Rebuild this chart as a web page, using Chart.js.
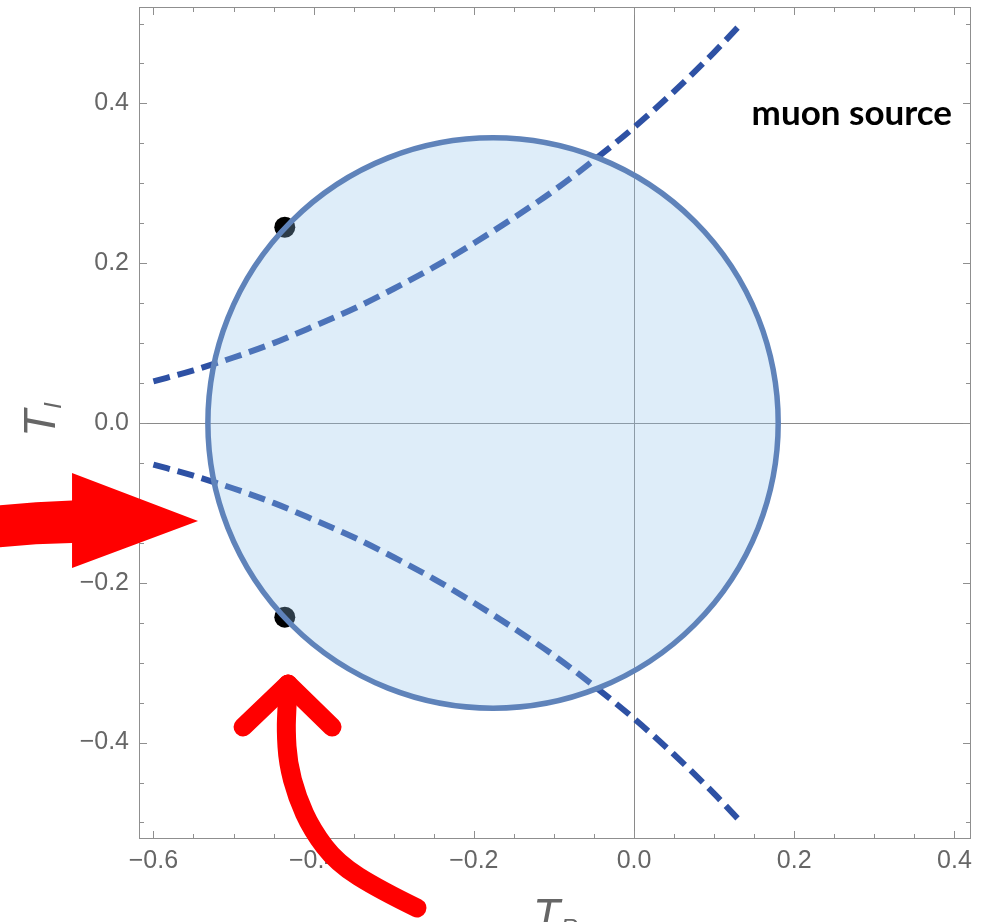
<!DOCTYPE html>
<html>
<head>
<meta charset="utf-8">
<script src="https://cdn.jsdelivr.net/npm/chart.js@4.4.1/dist/chart.umd.min.js"></script>
<style>
  html, body { margin: 0; padding: 0; background: #ffffff; }
  canvas { display: block; }
</style>
</head>
<body>
<canvas id="chart" width="981" height="922"></canvas>
<script>
// Sampled dispersion curves (T_R on x, T_I on y)
const curveX = [-0.600, -0.550, -0.500, -0.450, -0.400, -0.350, -0.300, -0.250, -0.200, -0.150, -0.100, -0.050, 0.000, 0.050, 0.100, 0.136];
const upperY = [0.052, 0.066, 0.082, 0.100, 0.121, 0.143, 0.168, 0.195, 0.225, 0.257, 0.291, 0.329, 0.370, 0.415, 0.464, 0.502];
const lowerY = [-0.052, -0.066, -0.082, -0.100, -0.121, -0.143, -0.168, -0.195, -0.225, -0.257, -0.291, -0.329, -0.370, -0.415, -0.464, -0.502];

// Allowed region: disc centre and radius
const circleCenter = [-0.176, 0.0];
const circleRadius = [0.356];

// Highlighted points on the boundary
const markerX = [-0.436, -0.436];
const markerY = [0.245, -0.243];

// Labelled ticks
const xTicks = [-0.6, -0.4, -0.2, 0.0, 0.2, 0.4];
const yTicks = [-0.4, -0.2, 0.0, 0.2, 0.4];

const regionLabel = 'muon source';

const toPoints = (xs, ys) => xs.map((x, i) => ({ x: x, y: ys[i] }));
const fmtTick = v => Number(v).toFixed(1).replace('-', '\u2212');

// Annotation arrows, expressed in axis units
const leftArrow = {
  tailTop: [[-0.794, -0.1033], [-0.7478, -0.0982], [-0.7016, -0.0970]],
  head: [[-0.7016, -0.0626], [-0.5443, -0.1227], [-0.7016, -0.1815]],
  tailBottom: [[-0.7016, -0.1502], [-0.7478, -0.1508], [-0.794, -0.1558]]
};
const bottomArrow = {
  shaft: [[-0.2709, -0.6070], [-0.3171, -0.5845], [-0.3708, -0.5507], [-0.4020, -0.5094], [-0.4207, -0.4681],
          [-0.4320, -0.4255], [-0.4345, -0.3842], [-0.4332, -0.3554], [-0.4320, -0.3267]],
  head: [[-0.4881, -0.3805], [-0.4320, -0.3267], [-0.3770, -0.3805]]
};

const GRAY_TEXT = '#666666';
const FRAME = '#8f8f8f';

const decorations = {
  id: 'decorations',
  beforeDraw(chart) {
    const ctx = chart.ctx;
    ctx.save();
    ctx.fillStyle = '#ffffff';
    ctx.fillRect(0, 0, chart.width, chart.height);
    ctx.restore();
  },
  beforeDatasetsDraw(chart) {
    // axes through the origin
    const { ctx, chartArea: a, scales: { x, y } } = chart;
    const x0 = Math.round(x.getPixelForValue(0)) + 0.5;
    const y0 = Math.round(y.getPixelForValue(0)) + 0.5;
    ctx.save();
    ctx.strokeStyle = '#8a8a8a';
    ctx.lineWidth = 1;
    ctx.beginPath();
    ctx.moveTo(x0, a.top); ctx.lineTo(x0, a.bottom);
    ctx.moveTo(a.left, y0); ctx.lineTo(a.right, y0);
    ctx.stroke();
    ctx.restore();
  },
  afterDatasetsDraw(chart) {
    const { ctx, chartArea: a, scales: { x, y } } = chart;
    ctx.save();
    // frame
    ctx.strokeStyle = FRAME;
    ctx.lineWidth = 1;
    ctx.strokeRect(a.left + 0.5, a.top + 0.5, a.right - a.left - 1, a.bottom - a.top - 1);
    // inward ticks on all four sides, major every 0.2, minor every 0.05
    ctx.beginPath();
    for (let k = -12; k <= 8; k++) {
      const v = k * 0.05;
      const len = k % 4 === 0 ? 8 : 5;
      const px = Math.round(x.getPixelForValue(v)) + 0.5;
      ctx.moveTo(px, a.bottom); ctx.lineTo(px, a.bottom - len);
      ctx.moveTo(px, a.top); ctx.lineTo(px, a.top + len);
    }
    for (let k = -10; k <= 10; k++) {
      const v = k * 0.05;
      const len = k % 4 === 0 ? 8 : 5;
      const py = Math.round(y.getPixelForValue(v)) + 0.5;
      ctx.moveTo(a.left, py); ctx.lineTo(a.left + len, py);
      ctx.moveTo(a.right, py); ctx.lineTo(a.right - len, py);
    }
    ctx.stroke();
    // region label
    ctx.fillStyle = '#000000';
    ctx.font = 'bold 35px Lato, "Open Sans", sans-serif';
    ctx.textAlign = 'right';
    ctx.textBaseline = 'alphabetic';
    ctx.fillText(regionLabel, x.getPixelForValue(0.397), y.getPixelForValue(0.373));
    ctx.restore();
  },
  afterDraw(chart) {
    const { ctx, chartArea: a, scales: { x, y } } = chart;
    const P = p => [x.getPixelForValue(p[0]), y.getPixelForValue(p[1])];
    ctx.save();

    // axis titles with subscripts
    const mainFont = 'italic 44px "Liberation Sans", Arial, sans-serif';
    const subFont = 'italic 24px "Liberation Sans", Arial, sans-serif';
    const drawTitle = (main, sub) => {
      ctx.font = mainFont;
      const w1 = ctx.measureText(main).width;
      ctx.font = subFont;
      const w2 = ctx.measureText(sub).width;
      const start = -(w1 + w2) / 2;
      ctx.font = mainFont;
      ctx.fillText(main, start, 0);
      ctx.font = subFont;
      ctx.fillText(sub, start + w1 + 1, 6);
    };
    ctx.fillStyle = GRAY_TEXT;
    ctx.textAlign = 'left';
    ctx.textBaseline = 'alphabetic';
    ctx.save();
    ctx.translate((a.left + a.right) / 2, 930);
    drawTitle('T', 'R');
    ctx.restore();
    ctx.save();
    ctx.translate(55, (a.top + a.bottom) / 2 - 3);
    ctx.rotate(-Math.PI / 2);
    drawTitle('T', 'I');
    ctx.restore();

    // red arrows
    ctx.fillStyle = '#ff0000';
    ctx.strokeStyle = '#ff0000';
    const L = leftArrow;
    ctx.beginPath();
    let p = P(L.tailTop[0]); ctx.moveTo(p[0], p[1]);
    let c = P(L.tailTop[1]); p = P(L.tailTop[2]); ctx.quadraticCurveTo(c[0], c[1], p[0], p[1]);
    L.head.forEach(h => { const q = P(h); ctx.lineTo(q[0], q[1]); });
    p = P(L.tailBottom[0]); ctx.lineTo(p[0], p[1]);
    c = P(L.tailBottom[1]); p = P(L.tailBottom[2]); ctx.quadraticCurveTo(c[0], c[1], p[0], p[1]);
    ctx.closePath();
    ctx.fill();

    const pts = bottomArrow.shaft.map(P);
    ctx.lineWidth = 19;
    ctx.lineCap = 'round';
    ctx.lineJoin = 'round';
    ctx.beginPath();
    ctx.moveTo(pts[0][0], pts[0][1]);
    for (let i = 1; i < pts.length - 1; i++) {
      const mx = (pts[i][0] + pts[i + 1][0]) / 2;
      const my = (pts[i][1] + pts[i + 1][1]) / 2;
      ctx.quadraticCurveTo(pts[i][0], pts[i][1], mx, my);
    }
    const last = pts[pts.length - 1];
    ctx.lineTo(last[0], last[1]);
    ctx.stroke();
    const hd = bottomArrow.head.map(P);
    ctx.beginPath();
    ctx.moveTo(hd[0][0], hd[0][1]);
    ctx.lineTo(hd[1][0], hd[1][1]);
    ctx.lineTo(hd[2][0], hd[2][1]);
    ctx.stroke();

    ctx.restore();
  }
};

const tickFont = { family: '"Liberation Sans", Arial, sans-serif', size: 25 };
const noPadding = s => { s.paddingTop = 0; s.paddingBottom = 0; s.paddingLeft = 0; s.paddingRight = 0; };

new Chart(document.getElementById('chart'), {
  type: 'scatter',
  data: {
    datasets: [
      {
        // disc drawn as a single point whose radius follows the x scale
        data: [{ x: circleCenter[0], y: circleCenter[1] }],
        pointRadius: ctx => {
          const xs = ctx.chart.scales.x;
          return xs.getPixelForValue(circleCenter[0] + circleRadius[0]) - xs.getPixelForValue(circleCenter[0]);
        },
        pointHoverRadius: 0,
        pointBackgroundColor: 'rgba(145, 195, 235, 0.3)',
        pointBorderColor: '#5f83ba',
        pointBorderWidth: 5.5,
        clip: false
      },
      {
        data: toPoints(curveX, upperY),
        showLine: true,
        borderColor: '#2e51a4',
        borderWidth: 6,
        borderDash: [17, 8],
        cubicInterpolationMode: 'monotone',
        pointRadius: 0
      },
      {
        data: toPoints(curveX, lowerY),
        showLine: true,
        borderColor: '#2e51a4',
        borderWidth: 6,
        borderDash: [17, 8],
        cubicInterpolationMode: 'monotone',
        pointRadius: 0
      },
      {
        data: toPoints(markerX, markerY),
        pointRadius: 10.5,
        pointBackgroundColor: '#000000',
        pointBorderWidth: 0
      }
    ]
  },
  options: {
    responsive: false,
    animation: false,
    devicePixelRatio: 1,
    events: [],
    layout: { autoPadding: false, padding: { top: 7, right: 10, bottom: 0, left: 0 } },
    plugins: { legend: { display: false }, tooltip: { enabled: false } },
    scales: {
      x: {
        type: 'linear',
        min: -0.618,
        max: 0.4207,
        afterBuildTicks: s => { s.ticks = xTicks.map(v => ({ value: v })); },
        afterFit: s => { s.height = 83; noPadding(s); },
        grid: { display: false, drawTicks: false },
        border: { display: false },
        ticks: { font: tickFont, color: GRAY_TEXT, padding: 7, maxRotation: 0, autoSkip: false, callback: v => fmtTick(v) }
      },
      y: {
        type: 'linear',
        min: -0.5207,
        max: 0.5207,
        afterBuildTicks: s => { s.ticks = yTicks.map(v => ({ value: v })); },
        afterFit: s => { s.width = 139; noPadding(s); },
        grid: { display: false, drawTicks: false },
        border: { display: false },
        ticks: { font: tickFont, color: GRAY_TEXT, padding: 10, autoSkip: false, callback: v => fmtTick(v) }
      }
    }
  },
  plugins: [decorations]
});
</script>
</body>
</html>
